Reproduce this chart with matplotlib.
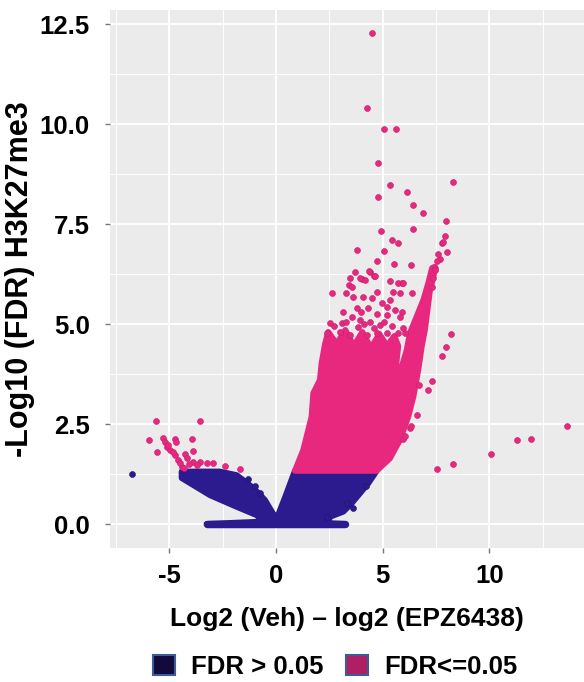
import matplotlib
matplotlib.use("Agg")
import matplotlib.pyplot as plt
from matplotlib.patches import Polygon, Patch
import numpy as np

plt.rcParams['font.family'] = ['Liberation Sans', 'DejaVu Sans']
plt.rcParams['font.weight'] = 'bold'
plt.rcParams['axes.unicode_minus'] = False

# outline of the solid (over-plotted) blue cloud, FDR > 0.05
blue_region_x = [-4.42, -2.63, -1.84, -1.45, -1.06, -0.52, -0.05, 0.05, 0.45, 0.89,
                 4.72, 4.33, 3.94, 3.55, 3.16, 2.53, 2.45, 3.23,
                 -3.25, -0.6, -0.9, -1.84, -3.09, -4.42]
blue_region_y = [1.31, 1.31, 1.22, 1.06, 0.90, 0.60, 0.18, 0.15, 0.70, 1.33,
                 1.33, 1.02, 0.77, 0.52, 0.31, 0.18, 0.02, 0.0,
                 0.0, 0.06, 0.22, 0.43, 0.72, 1.15]

# the flat row of blue points at -log10(FDR) = 0
floor_x = [-3.25, 3.23]
floor_y = [0.0, 0.0]

# outline of the solid pink cloud, FDR <= 0.05
pink_region_x = [0.89, 4.72, 5.34, 5.81, 6.20, 6.44, 6.67, 6.83, 6.98, 7.06, 7.22, 7.38, 7.45,
                 7.32, 7.14, 6.91, 6.28, 6.13, 5.81, 5.50, 5.19,
                 5.34, 5.58, 5.66, 5.73, 5.55, 5.20, 4.85, 4.45, 4.05, 3.65, 3.25, 2.85, 2.45,
                 2.30, 2.14, 2.06, 1.75, 1.67, 1.28]
pink_region_y = [1.33, 1.33, 1.64, 2.10, 2.68, 3.18, 3.85, 4.43, 4.85, 5.18, 5.85, 6.18, 6.43,
                 6.40, 6.02, 5.60, 4.77, 4.35, 3.77, 3.02, 2.35,
                 2.93, 3.60, 4.10, 4.45, 4.70, 4.45, 4.75, 4.40, 4.80, 4.45, 4.85, 4.50, 4.80,
                 4.50, 4.02, 3.60, 3.27, 2.68, 1.85]

# single pink points
pink_x = [4.49, 4.25, 5.08, 5.63, 4.80, 5.34, 4.80, 4.92, 3.78, 8.31, 6.13, 6.44, 6.91, 7.97,
          6.44, 5.45, 5.74, 7.92, 7.77, 8.03, 5.06, 4.72, 5.55, 6.33, 7.67, 7.45, 4.41, 4.59,
          4.02, 3.44, 5.91, 2.63, 3.28,
          3.70, 4.38, 4.64, 3.47, 3.94, 4.17, 5.34, 5.73, 5.97, 3.55, 3.63, 4.09, 4.49, 4.72,
          4.95, 5.50, 5.81, 6.36, 3.78, 4.33, 5.19, 5.58, 5.89, 2.53, 3.08, 3.55, 3.94, 4.41,
          4.88, 5.22, 5.81, 2.38, 3.00, 3.47, 4.25, 4.72, 5.19, 5.73, 6.05,
          2.70, 3.30, 3.85, 4.15, 4.60, 5.05, 5.45, 5.95, 3.15, 4.00, 4.75, 5.35,
          7.38, 7.30, 7.45, 7.57, 7.85, 7.60,
          8.20, 7.95, 7.80, 7.33, 7.14, 6.70, 6.60, 6.28, 6.31, 5.97, 6.05,
          7.53, 8.31, 10.08, 11.28, 11.95, 13.66,
          -5.63, -3.56, -5.95, -5.28, -4.74, -4.69, -3.95, -5.56, -3.88, -4.27, -4.16,
          -5.20, -5.12, -4.97, -4.74, -4.58, -4.42, -5.05, -4.85, -4.50,
          -3.88, -3.56, -3.25, -2.94, -2.39, -1.69, -4.10, -3.70, -4.30]
pink_y = [12.27, 10.39, 9.87, 9.87, 9.02, 8.47, 8.18, 7.33, 6.85, 8.56, 8.29, 7.98, 7.78, 7.58,
          7.37, 7.10, 7.02, 7.20, 7.02, 6.81, 6.83, 6.58, 6.50, 6.48, 6.63, 6.41, 6.31, 6.20,
          6.12, 5.98, 6.02, 5.78, 5.77,
          6.31, 6.33, 6.21, 6.14, 6.14, 6.10, 6.08, 6.02, 6.03, 5.93, 5.68, 5.68, 5.64, 5.81,
          5.52, 5.81, 5.77, 5.77, 5.39, 5.39, 5.43, 5.35, 5.31, 5.02, 5.02, 5.18, 5.10, 5.06,
          4.98, 5.22, 5.18, 4.77, 4.81, 4.73, 4.73, 4.77, 4.77, 4.77, 4.77,
          4.95, 5.05, 4.92, 5.00, 4.90, 5.05, 4.95, 4.90, 5.30, 5.30, 5.25, 5.60,
          6.14, 5.93, 6.35, 6.57, 7.06, 6.75,
          4.75, 4.43, 4.21, 3.58, 3.35, 3.48, 2.73, 2.39, 2.45, 2.12, 2.20,
          1.37, 1.50, 1.74, 2.10, 2.12, 2.46,
          2.58, 2.58, 2.10, 2.14, 2.13, 2.06, 2.12, 1.81, 1.83, 1.75, 1.64,
          2.06, 1.93, 1.85, 1.72, 1.60, 1.43, 1.98, 1.80, 1.52,
          1.56, 1.56, 1.52, 1.52, 1.45, 1.37, 1.50, 1.48, 1.40]

# single blue points
blue_x = [-6.77, 4.22, 3.31, 3.62, 2.38, -1.30, -1.00, -0.75]
blue_y = [1.25, 0.95, 0.53, 0.39, 0.18, 1.12, 0.96, 0.78]

x_ticks = [-5, 0, 5, 10]
y_ticks = [0.0, 2.5, 5.0, 7.5, 10.0, 12.5]
legend_labels = ['FDR > 0.05', 'FDR<=0.05']

pink = '#e8287f'
blue = '#2c1a8f'
dot = 4.3  # marker diameter in points

fig = plt.figure(figsize=(5.84, 6.82), dpi=100)
ax = fig.add_axes([110 / 584, 134 / 682, 474 / 584, 538 / 682])
ax.set_facecolor('#ebebeb')
for s in ax.spines.values():
    s.set_visible(False)

ax.set_xlim(-7.78, 14.44)
ax.set_ylim(-0.6, 12.85)
ax.set_xticks(x_ticks)
ax.set_yticks(y_ticks)
ax.set_xticks([-7.5, -2.5, 2.5, 7.5, 12.5], minor=True)
ax.set_yticks([1.25, 3.75, 6.25, 8.75, 11.25], minor=True)
ax.set_yticklabels(['%.1f' % v for v in y_ticks])
ax.grid(which='major', color='white', linewidth=1.4)
ax.grid(which='minor', color='white', linewidth=0.7)
ax.set_axisbelow(True)
ax.tick_params(which='major', length=3.5, width=1, color='#777777', labelsize=18.5)
ax.tick_params(axis='y', pad=11)
ax.tick_params(axis='x', pad=8)
ax.tick_params(which='minor', length=0)

ax.add_patch(Polygon(np.column_stack([blue_region_x, blue_region_y]), closed=True,
                     facecolor=blue, edgecolor=blue, linewidth=dot, joinstyle='round', zorder=2))
ax.plot(floor_x, floor_y, color=blue, linewidth=dot * 1.25, solid_capstyle='round', zorder=2)
ax.add_patch(Polygon(np.column_stack([pink_region_x, pink_region_y]), closed=True,
                     facecolor=pink, edgecolor=pink, linewidth=dot, joinstyle='round', zorder=3))
ax.scatter(blue_x, blue_y, s=dot ** 2, color=blue, edgecolors='#1f1270', linewidths=0.4, zorder=4)
ax.scatter(pink_x, pink_y, s=dot ** 2, color=pink, edgecolors='#c41f6b', linewidths=0.4, zorder=4)

ax.set_xlabel('Log2 (Veh) \u2013 log2 (EPZ6438)', fontsize=19, fontweight='bold', labelpad=14)
ax.set_ylabel('-Log10 (FDR) H3K27me3', fontsize=22, fontweight='bold')
ax.yaxis.set_label_coords(-0.158, 0.5)

handles = [Patch(facecolor='#110a3a', edgecolor='#3d5a99', linewidth=1.5),
           Patch(facecolor='#b01f64', edgecolor='#3d5a99', linewidth=1.5)]
fig.legend(handles, legend_labels, loc='center', bbox_to_anchor=(0.574, 0.022), ncol=2,
           frameon=False, fontsize=18.5, handlelength=0.84, handleheight=0.84,
           handletextpad=0.64, columnspacing=0.88, borderaxespad=0)

fig.savefig('out.png', dpi=100)
